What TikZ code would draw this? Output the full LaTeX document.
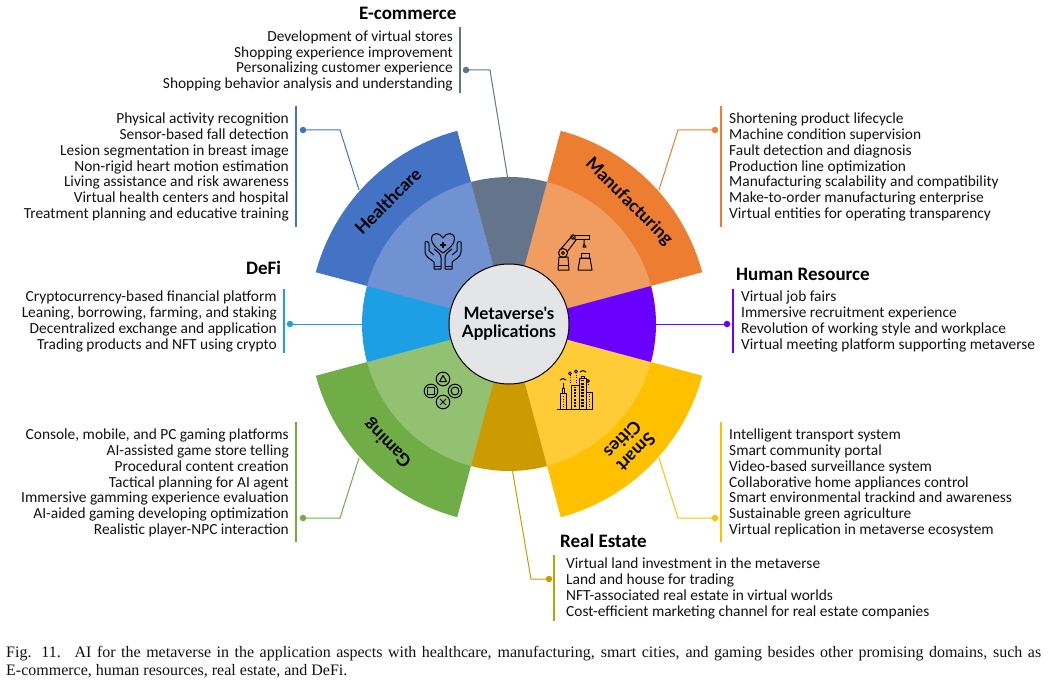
\documentclass[tikz,border=0pt]{standalone}
\usepackage{fontspec}
\setmainfont{Carlito}
\newfontfamily\capfont{Liberation Serif}
\newfontfamily\lblfont{Lato}
\definecolor{hc}{HTML}{4472C4}\definecolor{hcl}{HTML}{7092D2}
\definecolor{mf}{HTML}{ED7D31}\definecolor{mfl}{HTML}{F19D62}
\definecolor{sc}{HTML}{FFC000}\definecolor{scl}{HTML}{FFCC38}
\definecolor{gm}{HTML}{70AD47}\definecolor{gml}{HTML}{93C172}
\definecolor{ec}{HTML}{64748A}\definecolor{re}{HTML}{CC9B02}
\definecolor{df}{HTML}{1C9FE4}\definecolor{hr}{HTML}{6A00FF}
\definecolor{core}{HTML}{E4E5E6}\definecolor{txt}{HTML}{111111}
\newcommand{\outerwedge}[3]{\fill[#3] (ctr) -- ++(#1:200) arc (#1:#2:200) -- cycle;}
\newcommand{\midwedge}[3]{\fill[#3] (ctr) -- ++(#1:147) arc (#1:#2:147) -- cycle;}
\tikzset{
 x=1pt,y=1pt,
 listl/.style={anchor=west,align=left,font=\fontsize{15.4}{15.8}\selectfont,text=txt,inner sep=0pt},
 listr/.style={anchor=east,align=right,font=\fontsize{15.4}{15.8}\selectfont,text=txt,inner sep=0pt},
 heading/.style={anchor=west,font=\fontsize{19}{20}\selectfont\bfseries,text=black,inner sep=0pt},
 sectorlabel/.style={font=\lblfont\bfseries\fontsize{17.5}{19}\selectfont,text=black,inner sep=0pt,align=center},
 dotmark/.style={circle,fill=#1,minimum size=6.5pt,inner sep=0pt},
 leader/.style={draw=#1,line width=1pt},
 barline/.style={draw=#1,line width=1.1pt},
 iconline/.style={draw=black,line width=1pt,line join=round},
}
\begin{document}
\begin{tikzpicture}
\useasboundingbox (0,0) rectangle (1049,-682);
\coordinate (ctr) at (509,-324);
% wedges
\outerwedge{105}{165}{hc}\outerwedge{15}{75}{mf}\outerwedge{-75}{-15}{sc}\outerwedge{-165}{-105}{gm}
\midwedge{105}{165}{hcl}\midwedge{15}{75}{mfl}\midwedge{-75}{-15}{scl}\midwedge{-165}{-105}{gml}
\midwedge{75}{105}{ec}\midwedge{-15}{15}{hr}\midwedge{-105}{-75}{re}\midwedge{165}{195}{df}
\node[circle,draw=black,line width=1pt,fill=core,minimum size=120pt,inner sep=0pt,align=center,font=\lblfont\bfseries\fontsize{17}{18}\selectfont] (core) at (ctr) {Metaverse's\\Applications};
% sector labels
\node[sectorlabel,rotate=45] (lblH) at (388,-201) {Healthcare};
\node[sectorlabel,rotate=-45] (lblM) at (629,-202) {Manufacturing};
\node[sectorlabel,rotate=135] (lblG) at (388,-443) {Gaming};
\node[sectorlabel,rotate=225] (lblS) at (629.5,-446) {Smart\\Cities};
% lists
\node[heading] (ecH) at (359,-13) {E-commerce};
\node[listr] (ecL) at (453,-61) {Development of virtual stores\hspace{4pt}\\Shopping experience improvement\\Personalizing customer experience\\Shopping behavior analysis and understanding};
\node[listr] (hcL) at (289,-167) {Physical activity recognition\\Sensor-based fall detection\\Lesion segmentation in breast image\\Non-rigid heart motion estimation\\Living assistance and risk awareness\\Virtual health centers and hospital\\Treatment planning and educative training};
\node[listl] (mfL) at (729,-167) {Shortening product lifecycle\\Machine condition supervision\\Fault detection and diagnosis\\Production line optimization\\Manufacturing scalability and compatibility\\Make-to-order manufacturing enterprise\\Virtual entities for operating transparency};
\node[heading] (hrH) at (736,-274) {Human Resource};
\node[listl] (hrL) at (741,-321.5) {Virtual job fairs\\Immersive recruitment experience\\Revolution of working style and workplace\\Virtual meeting platform supporting metaverse};
\node[heading] (dfH) at (246,-268) {DeFi};
\node[listr] (dfL) at (277,-321.5) {Cryptocurrency-based financial platform\\Leaning, borrowing, farming, and staking\\Decentralized exchange and application\\Trading products and NFT using crypto};
\node[listr] (gmL) at (289,-483) {Console, mobile, and PC gaming platforms\\AI-assisted game store telling\\Procedural content creation\\Tactical planning for AI agent\\Immersive gamming experience evaluation\\AI-aided gaming developing optimization\\Realistic player-NPC interaction};
\node[listl] (scL) at (729,-483) {Intelligent transport system\\Smart community portal\\Video-based surveillance system\\Collaborative home appliances control\\Smart environmental trackind and awareness\\Sustainable green agriculture\\Virtual replication in metaverse ecosystem};
\node[heading] (reH) at (560,-541) {Real Estate};
\node[listl] (reL) at (566,-588.5) {Virtual land investment in the metaverse\\Land and house for trading\\NFT-associated real estate in virtual worlds\\Cost-efficient marketing channel for real estate companies};
% bars
\coordinate (b1a) at (460,-27);\coordinate (b1b) at (460,-93);\draw[barline=ec] (b1a)--(b1b);
\coordinate (b2a) at (296,-106);\coordinate (b2b) at (296,-227);\draw[barline=hc] (b2a)--(b2b);
\coordinate (b3a) at (721,-106);\coordinate (b3b) at (721,-227);\draw[barline=mf] (b3a)--(b3b);
\coordinate (b4a) at (733,-289);\coordinate (b4b) at (733,-353);\draw[barline=hr] (b4a)--(b4b);
\coordinate (b5a) at (284,-289);\coordinate (b5b) at (284,-353);\draw[barline=df] (b5a)--(b5b);
\coordinate (b6a) at (296,-422);\coordinate (b6b) at (296,-542);\draw[barline=gm] (b6a)--(b6b);
\coordinate (b7a) at (721,-422);\coordinate (b7b) at (721,-542);\draw[barline=sc] (b7a)--(b7b);
\coordinate (b8a) at (554,-555);\coordinate (b8b) at (554,-621);\draw[barline=re] (b8a)--(b8b);
% leaders
\node[dotmark=ec] (d1) at (466,-70) {};\coordinate (m1) at (490,-70);\coordinate (e1) at (507.5,-177);\draw[leader=ec] (d1.center)--(m1)--(e1);
\node[dotmark=hc] (d2) at (303,-130) {};\coordinate (m2) at (340,-130);\coordinate (e2) at (359,-190);\draw[leader=hc] (d2.center)--(m2)--(e2);
\node[dotmark=mf] (d3) at (715,-130) {};\coordinate (m3) at (678,-130);\coordinate (e3) at (659,-190);\draw[leader=mf] (d3.center)--(m3)--(e3);
\node[dotmark=hr] (d4) at (727,-324) {};\coordinate (e4) at (655,-324);\draw[leader=hr] (d4.center)--(e4);
\node[dotmark=df] (d5) at (290,-324) {};\coordinate (e5) at (362,-324);\draw[leader=df] (d5.center)--(e5);
\node[dotmark=gm] (d6) at (303,-518) {};\coordinate (m6) at (340,-518);\coordinate (e6) at (359,-458);\draw[leader=gm] (d6.center)--(m6)--(e6);
\node[dotmark=sc] (d7) at (715,-518) {};\coordinate (m7) at (678,-518);\coordinate (e7) at (659,-458);\draw[leader=sc] (d7.center)--(m7)--(e7);
\node[dotmark=re] (d8) at (549,-579) {};\coordinate (m8) at (531,-579);\coordinate (e8) at (512.5,-471);\draw[leader=re] (d8.center)--(m8)--(e8);
% healthcare icon
\begin{scope}[shift={(443,-252)},iconline]
 \draw (0,-1) .. controls (-7,4) and (-11.5,8) .. (-11.5,13) .. controls (-11.5,20) and (-3,20) .. (0,14) .. controls (3,20) and (11.5,20) .. (11.5,13) .. controls (11.5,8) and (7,4) .. (0,-1);
 \draw[line width=1.5pt] (-3,7)--(3,7) (0,4)--(0,10);
 \foreach \s in {-1,1}{
  \begin{scope}[xscale=\s]
   \draw (-18,10) -- (-18,0) .. controls (-18,-5) and (-11,-8) .. (-9,-10) -- (-9,-17) -- (-2,-17) -- (-2,-6) .. controls (-2,-2) and (-5,0) .. (-9,3);
   \draw (-9,-14)--(-2,-14);
   \draw (-18,10) .. controls (-15,11) and (-14,10) .. (-14,7) -- (-14,1) -- (-9,-3);
  \end{scope}}
\end{scope}
% robot icon
\begin{scope}[shift={(575,-252)},iconline]
 \draw (-17,-18) -- (-6,-18) -- (-7,-5) -- (-16,-5) -- cycle;
 \draw (-17,-13)--(-6,-13);
 \draw (-12,-1) circle (4.5) (-12,-1) circle (1.5);
 \draw (-15,2) -- (-3,16) -- (1,12) -- (-8,0);
 \draw (-2,15) circle (2.2);
 \draw (0,17) -- (14,17) -- (14,13) -- (0,13);
 \draw (9,13) -- (9,8) -- (11,5) -- (8,5) -- (9,8);
 \draw (6,-1) -- (14,-1) -- (14,-6) -- (6,-6) -- cycle;
 \draw (5,-6) -- (15,-6) -- (17,-18) -- (3,-18) -- cycle;
\end{scope}
% game icon
\begin{scope}[shift={(443,-391)},iconline]
 \draw (0,12) circle (6.8) (0,-11) circle (6.8) (-12,0) circle (6.8) (12,0) circle (6.8);
 \draw (-3.5,9.5) -- (3.5,9.5) -- (0,15.5) -- cycle;
 \draw (-15.5,-3.5) rectangle (-8.5,3.5);
 \draw (12,0) circle (4);
 \draw (-3,-14) -- (3,-8) (-3,-8) -- (3,-14);
\end{scope}
% city icon
\begin{scope}[shift={(575,-391)},iconline]
 \draw (-18,-18) -- (18,-18);
 \draw (-15,-18) rectangle (-9,-2);
 \draw (-13,-2) -- (-13,3) -- (-11,3) -- (-11,-2);
 \draw (-12,3) -- (-12,8);
 \draw (-4,-18) rectangle (4,6);
 \draw (4,-18) rectangle (11,13);
 \draw (6,13) -- (6,15) -- (9,15) -- (9,13);
 \draw (11,-18) rectangle (17,-1);
 \draw[dash pattern=on 2pt off 1.2pt,line width=2.5pt] (0,-16) -- (0,4) (7.5,-16) -- (7.5,11);
 \draw[dash pattern=on 1pt off 1.5pt] (-12,-16) -- (-12,-4) (14,-16) -- (14,-3);
 \draw[dash pattern=on 1pt off 1.5pt] (-5,8) -- (-5,16) (1,8) -- (1,18) (13,6) -- (13,8);
 \draw (-5,17.5) circle (1.5) (1,19.5) circle (1.5) (13,10) circle (1.5);
 \draw (-15,11) .. controls (-13,13) and (-11,13) .. (-9,11) (5,19) .. controls (7,21) and (9,21) .. (11,19);
\end{scope}
% caption
\node[anchor=north west,inner sep=0pt,align=left,font=\capfont\fontsize{16}{18}\selectfont,text=txt] (cap) at (6,-646) {\makebox[1035pt][s]{Fig. 11.\hspace{4pt} AI for the metaverse in the application aspects with healthcare, manufacturing, smart cities, and gaming besides other promising domains, such as}\\E-commerce, human resources, real estate, and DeFi.};
\end{tikzpicture}
\end{document}
